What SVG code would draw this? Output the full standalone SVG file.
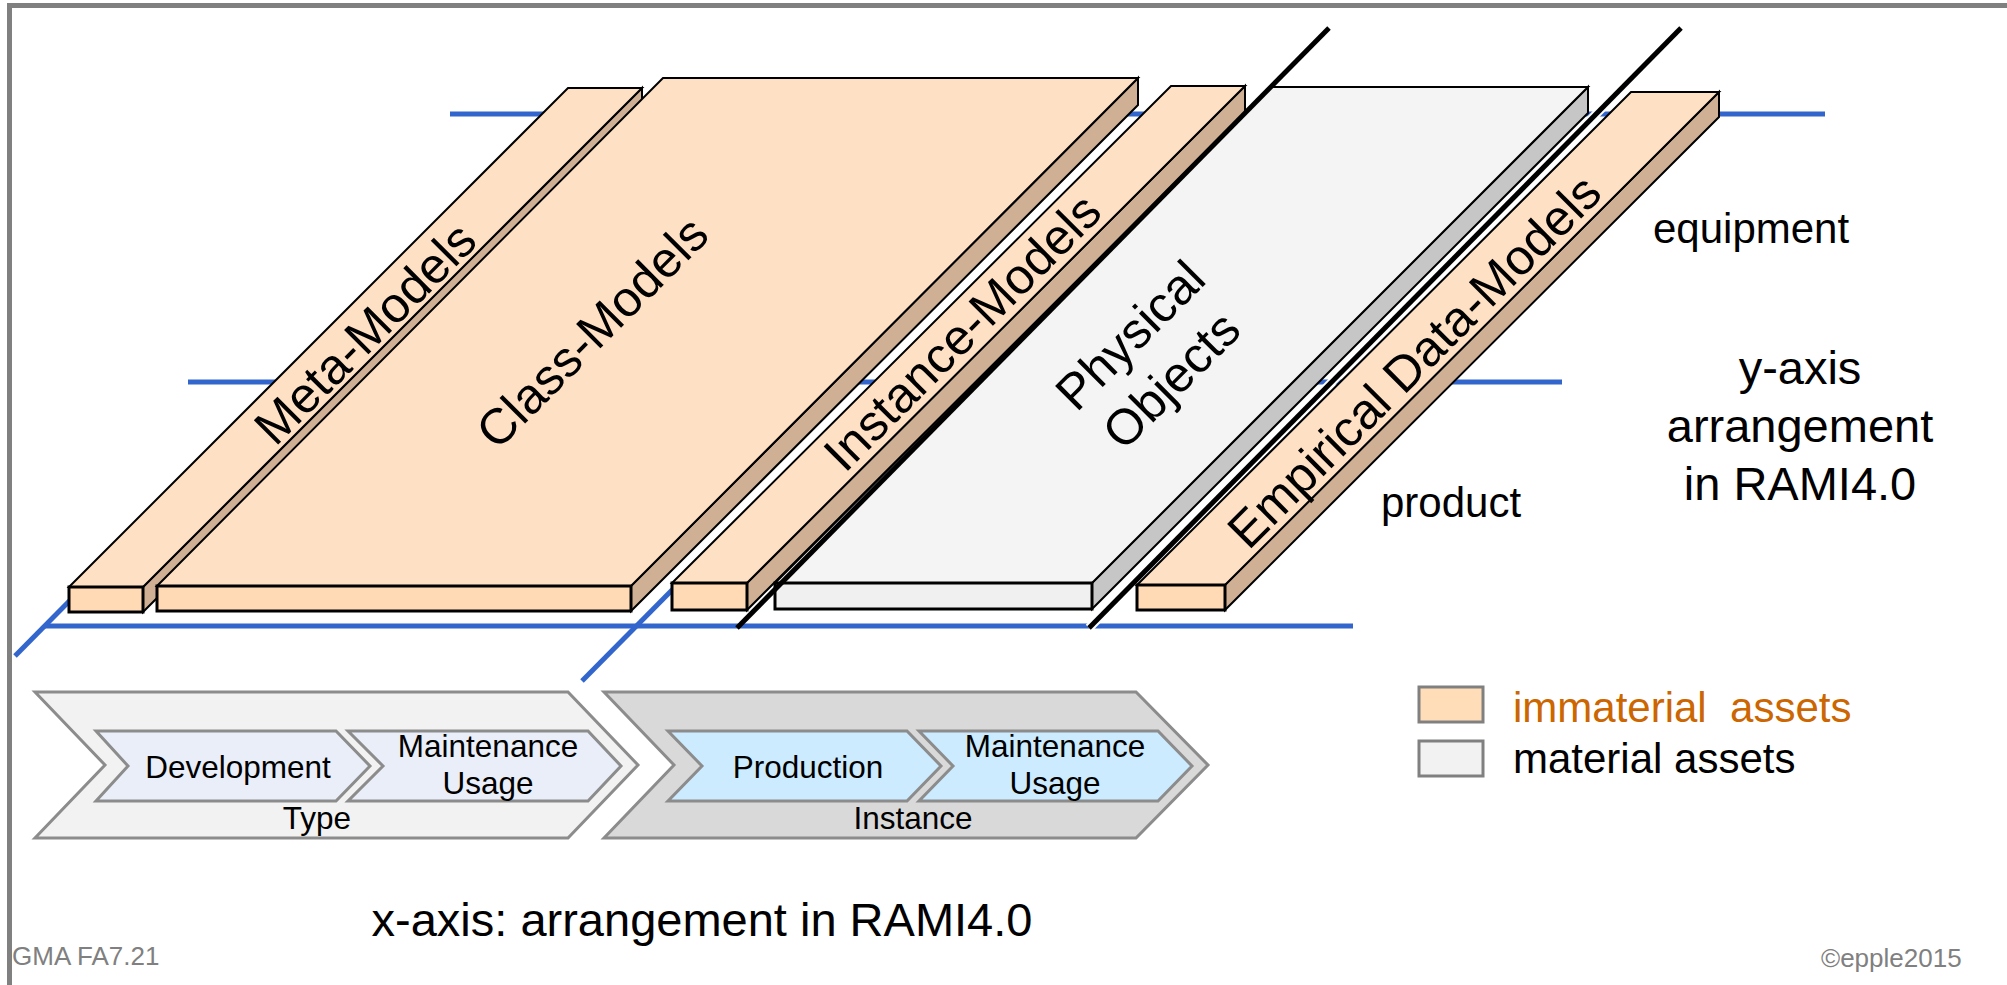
<svg xmlns="http://www.w3.org/2000/svg" width="2007" height="985" viewBox="0 0 2007 985">
  <style>
    text { font-family: "Liberation Sans", Arial, sans-serif; fill: #000; }
    .face { stroke: #000; stroke-width: 2; stroke-linejoin: miter; }
    .front { stroke: #000; stroke-width: 3; }
    .o-top { fill: #FEE0C4; }
    .o-front { fill: #FFDAB4; }
    .o-side { fill: #CFB095; }
    .g-top { fill: #F4F4F4; }
    .g-front { fill: #F0F0F0; }
    .g-side { fill: #C6C6C6; }
    .axis { stroke: #3366CC; stroke-width: 5; fill: none; }
    .edge { stroke: #000; stroke-width: 5; fill: none; }
    .slab-label { font-size: 50px; text-anchor: middle; }
    .phase-outer { stroke: #8C8C8C; stroke-width: 3; }
    .phase-inner { stroke: #8C8C8C; stroke-width: 3; }
    .phase-label { font-size: 31.5px; text-anchor: middle; }
    .legend-box { stroke: #808080; stroke-width: 3; }
    .side-label { font-size: 42px; }
    .axis-title { font-size: 47px; text-anchor: middle; }
    .footer { font-size: 26px; fill: #808080; }
  </style>

  <!-- frame -->
  <path d="M9.5,985 V5.5 H2007" fill="none" stroke="#808080" stroke-width="5"/>

  <!-- axis grid lines (behind the slabs) -->
  <g id="grid-lines">
    <line class="axis" x1="450" y1="114" x2="1825" y2="114"/>
    <line class="axis" x1="188" y1="382" x2="1562" y2="382"/>
    <line class="axis" x1="45" y1="626" x2="1353" y2="626"/>
    <line class="axis" x1="15" y1="656" x2="100" y2="570"/>
    <line class="axis" x1="582" y1="681" x2="676" y2="586"/>
  </g>

  <!-- Meta-Models bar -->
  <g id="meta-models">
    <polygon class="face o-side" points="143,587 642,88 642,113 143,612"/>
    <polygon class="face o-top" points="69,587 568,88 642,88 143,587"/>
    <rect class="front o-front" x="69" y="587" width="74" height="25"/>
    <text class="slab-label" transform="translate(365,333) rotate(-45)" dy="0.35em">Meta-Models</text>
  </g>

  <!-- Class-Models slab -->
  <g id="class-models">
    <polygon class="face o-side" points="631,586 1138,78 1138,105 631,611"/>
    <polygon class="face o-top" points="157,586 663,78 1138,78 631,586"/>
    <rect class="front o-front" x="157" y="586" width="474" height="25"/>
    <text class="slab-label" transform="translate(592,332) rotate(-45)" dy="0.35em">Class-Models</text>
  </g>

  <!-- Instance-Models bar -->
  <g id="instance-models">
    <polygon class="face o-side" points="747,583 1245,86 1245,113 747,610"/>
    <polygon class="face o-top" points="672,583 1171,86 1245,86 747,583"/>
    <rect class="front o-front" x="672" y="583" width="75" height="27"/>
    <text class="slab-label" transform="translate(962,332) rotate(-45)" dy="0.35em">Instance-Models</text>
  </g>

  <!-- Physical Objects slab -->
  <g id="physical-objects">
    <polygon class="face g-side" points="1092,583 1588,87 1588,113 1092,609"/>
    <polygon class="face g-top" points="775,583 1271,87 1588,87 1092,583"/>
    <rect class="front g-front" x="775" y="583" width="317" height="26"/>
    <text class="slab-label" transform="translate(1130,335) rotate(-45)" dy="0.35em">Physical</text>
    <text class="slab-label" transform="translate(1171,380) rotate(-45)" dy="0.35em">Objects</text>
  </g>

  <!-- boundary lines between the information world and the physical world -->
  <g id="boundaries">
    <line class="edge" x1="737" y1="628" x2="1329" y2="28"/>
    <line x1="1089" y1="628" x2="1681" y2="28" stroke="#fff" stroke-width="9"/>
    <line class="edge" x1="1089" y1="628" x2="1681" y2="28"/>
  </g>

  <!-- Empirical Data-Models bar -->
  <g id="empirical-data-models">
    <polygon class="face o-side" points="1225,585 1719,92 1719,117 1225,610"/>
    <polygon class="face o-top" points="1137,585 1631,92 1719,92 1225,585"/>
    <rect class="front o-front" x="1137" y="585" width="88" height="25"/>
    <text class="slab-label" transform="translate(1414,361) rotate(-45)" dy="0.35em">Empirical Data-Models</text>
  </g>

  <!-- y-axis labels -->
  <g id="y-labels">
    <text class="side-label" x="1653" y="243">equipment</text>
    <text class="side-label" x="1381" y="517">product</text>
    <text class="axis-title" x="1800" y="384">y-axis</text>
    <text class="axis-title" x="1800" y="442">arrangement</text>
    <text class="axis-title" x="1800" y="500">in RAMI4.0</text>
  </g>

  <!-- Type phase -->
  <g id="type-phase">
    <path class="phase-outer" fill="#F2F2F2" d="M35,692 H568 L638,765 L568,838 H35 L105,765 Z"/>
    <path class="phase-inner" fill="#E9EEF8" d="M96,731 H336 L370,766 L336,801 H96 L128,766 Z"/>
    <path class="phase-inner" fill="#E9EEF8" d="M348,731 H588 L621,766 L588,801 H348 L383,766 Z"/>
    <text class="phase-label" x="238" y="778">Development</text>
    <text class="phase-label" x="488" y="757">Maintenance</text>
    <text class="phase-label" x="488" y="794">Usage</text>
    <text class="phase-label" x="317" y="829">Type</text>
  </g>

  <!-- Instance phase -->
  <g id="instance-phase">
    <path class="phase-outer" fill="#D9D9D9" d="M604,692 H1136 L1208,765 L1136,838 H604 L674,765 Z"/>
    <path class="phase-inner" fill="#CCEBFF" d="M668,731 H907 L941,766 L907,801 H668 L702,766 Z"/>
    <path class="phase-inner" fill="#CCEBFF" d="M919,731 H1158 L1192,766 L1158,801 H919 L953,766 Z"/>
    <text class="phase-label" x="808" y="778">Production</text>
    <text class="phase-label" x="1055" y="757">Maintenance</text>
    <text class="phase-label" x="1055" y="794">Usage</text>
    <text class="phase-label" x="913" y="829">Instance</text>
  </g>

  <!-- legend -->
  <g id="legend">
    <rect class="legend-box" x="1419" y="687" width="64" height="35" fill="#FFDDB8"/>
    <rect class="legend-box" x="1419" y="741" width="64" height="35" fill="#F2F2F2"/>
    <text class="side-label" x="1513" y="722" style="fill:#CC6600;white-space:pre">immaterial  assets</text>
    <text class="side-label" x="1513" y="773">material assets</text>
  </g>

  <text class="axis-title" x="702" y="936">x-axis: arrangement in RAMI4.0</text>
  <text class="footer" x="12" y="965">GMA FA7.21</text>
  <text class="footer" x="1821" y="967">©epple2015</text>
</svg>
